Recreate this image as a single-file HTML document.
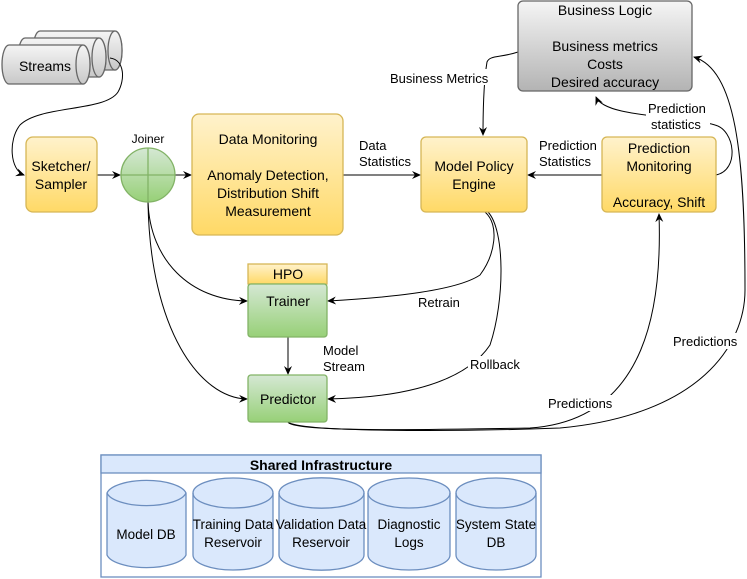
<!DOCTYPE html>
<html><head><meta charset="utf-8"><style>body{margin:0;background:#fff}svg{display:block}text{font-family:"Liberation Sans",sans-serif;fill:#000}</style></head><body>
<svg width="747" height="579" viewBox="0 0 747 579" xmlns="http://www.w3.org/2000/svg">
<defs>
<linearGradient id="y" x1="0" y1="0" x2="0" y2="1"><stop offset="0" stop-color="#fff2cc"/><stop offset="1" stop-color="#ffd966"/></linearGradient>
<linearGradient id="g" x1="0" y1="0" x2="0" y2="1"><stop offset="0" stop-color="#d5e8d4"/><stop offset="1" stop-color="#97d077"/></linearGradient>
<linearGradient id="gr" x1="0" y1="0" x2="0" y2="1"><stop offset="0" stop-color="#f5f5f5"/><stop offset="1" stop-color="#b3b3b3"/></linearGradient>
<linearGradient id="cg" x1="0" y1="0" x2="0" y2="1"><stop offset="0" stop-color="#f5f5f5"/><stop offset="1" stop-color="#c8c8c8"/></linearGradient>
<marker id="a" markerWidth="10" markerHeight="10" refX="8" refY="5" orient="auto" markerUnits="userSpaceOnUse"><path d="M0,1 L9,5 L0,9 L3,5 Z" fill="#000"/></marker>
</defs>
<g stroke="#666" stroke-width="1.3" fill="url(#cg)">
<path d="M40,31 H115 A7,19.5 0 0 1 115,70 H40 A7,19.5 0 0 1 40,31 Z"/><ellipse cx="115" cy="50.5" rx="7" ry="19.5"/>
<path d="M25,38 H99 A7,19.5 0 0 1 99,77 H25 A7,19.5 0 0 1 25,38 Z"/><ellipse cx="99" cy="57.5" rx="7" ry="19.5"/>
<path d="M9,45 H83 A7,19.5 0 0 1 83,84 H9 A7,19.5 0 0 1 9,45 Z"/><ellipse cx="83" cy="64.5" rx="7" ry="19.5"/>
</g>
<text x="45" y="71" font-size="14" text-anchor="middle">Streams</text>
<g fill="none" stroke="#000" stroke-width="1">
<path d="M110,58 C125,60 125,80 118,92 C105,112 40,105 20,125 C8,140 10,170 24,175" marker-end="url(#a)"/>
<path d="M97,175 H120" marker-end="url(#a)"/>
<path d="M175,175 H191" marker-end="url(#a)"/>
<path d="M343,175 H420" marker-end="url(#a)"/>
<path d="M602,175 H528" marker-end="url(#a)"/>
<path d="M518,52 C500,58 490,55 487,62 C484,80 483,110 483,135" marker-end="url(#a)"/>
<path d="M716,175 C740,170 735,130 715,125 C680,115 605,118 596,97" marker-end="url(#a)"/>
<path d="M148,202 C150,260 190,300 247,301" marker-end="url(#a)"/>
<path d="M148,202 C150,330 200,398 247,399" marker-end="url(#a)"/>
<path d="M485,212 C500,225 495,255 480,275 C455,292 380,298 328,301" marker-end="url(#a)"/>
<path d="M488,212 C505,230 505,300 490,345 C460,390 380,398 328,399" marker-end="url(#a)"/>
<path d="M288,337 V374" marker-end="url(#a)"/>
<path d="M288,422 C290,432 420,430 530,428 C650,420 662,300 659,214" marker-end="url(#a)"/>
<path d="M288,422 C300,432 450,432 560,428 C700,415 745,345 745,290 C745,150 735,70 694,57" marker-end="url(#a)"/>
</g>
<rect x="26" y="137" width="71" height="75" rx="7" fill="url(#y)" stroke="#d6b656" stroke-width="1.3"/>
<text x="61" y="171" font-size="14" text-anchor="middle">Sketcher/</text><text x="61" y="189" font-size="14" text-anchor="middle">Sampler</text>
<circle cx="148" cy="175" r="27" fill="url(#g)" stroke="#82b366" stroke-width="1.3"/>
<path d="M148,148 V202 M121,175 H175" stroke="#82b366" stroke-width="1.3"/>
<text x="148" y="143" font-size="12" text-anchor="middle">Joiner</text>
<rect x="192" y="114" width="151" height="121" rx="7" fill="url(#y)" stroke="#d6b656" stroke-width="1.3"/>
<g font-size="14" text-anchor="middle"><text x="268" y="144">Data Monitoring</text><text x="268" y="180">Anomaly Detection,</text><text x="268" y="198">Distribution Shift</text><text x="268" y="216">Measurement</text></g>
<rect x="421" y="137" width="106" height="75" rx="5" fill="url(#y)" stroke="#d6b656" stroke-width="1.3"/>
<g font-size="14" text-anchor="middle"><text x="474" y="171">Model Policy</text><text x="474" y="189">Engine</text></g>
<rect x="602" y="137" width="114" height="75" rx="5" fill="url(#y)" stroke="#d6b656" stroke-width="1.3"/>
<g font-size="14" text-anchor="middle"><text x="659" y="153">Prediction</text><text x="659" y="171">Monitoring</text><text x="659" y="207">Accuracy, Shift</text></g>
<rect x="518" y="1" width="174" height="90" rx="5" fill="url(#gr)" stroke="#666" stroke-width="1.3"/>
<g font-size="14" text-anchor="middle"><text x="605" y="15">Business Logic</text><text x="605" y="51">Business metrics</text><text x="605" y="69">Costs</text><text x="605" y="87">Desired accuracy</text></g>
<rect x="248" y="264" width="79" height="20" fill="url(#y)" stroke="#d6b656" stroke-width="1.3"/>
<text x="288" y="279" font-size="14" text-anchor="middle">HPO</text>
<rect x="248" y="284" width="79" height="53" rx="3" fill="url(#g)" stroke="#82b366" stroke-width="1.3"/>
<text x="288" y="306" font-size="14" text-anchor="middle">Trainer</text>
<rect x="248" y="375" width="79" height="47" rx="3" fill="url(#g)" stroke="#82b366" stroke-width="1.3"/>
<text x="288" y="404" font-size="14" text-anchor="middle">Predictor</text>
<g font-size="13">
<rect x="358" y="138" width="58" height="30" fill="#fff"/><text x="359" y="150">Data</text><text x="359" y="166">Statistics</text>
<rect x="538" y="138" width="62" height="30" fill="#fff"/><text x="539" y="150">Prediction</text><text x="539" y="166">Statistics</text>
<rect x="388" y="69" width="108" height="16" fill="#fff"/><text x="390" y="83">Business Metrics</text>
<rect x="646" y="100" width="64" height="32" fill="#fff"/><text x="648" y="113">Prediction</text><text x="651" y="129">statistics</text>
<rect x="416" y="294" width="50" height="16" fill="#fff"/><text x="418" y="307">Retrain</text>
<rect x="468" y="356" width="56" height="16" fill="#fff"/><text x="470" y="369">Rollback</text>
<text x="323" y="355">Model</text><text x="323" y="371">Stream</text>
<rect x="546" y="395" width="70" height="16" fill="#fff"/><text x="548" y="408">Predictions</text>
<rect x="671" y="333" width="72" height="16" fill="#fff"/><text x="673" y="346">Predictions</text>
</g>
<rect x="101" y="455" width="440" height="122" fill="#fff" stroke="#6c8ebf" stroke-width="1.3"/>
<rect x="101" y="455" width="440" height="18" fill="#dae8fc" stroke="#6c8ebf" stroke-width="1.3"/>
<text x="321" y="470" font-size="14" font-weight="bold" text-anchor="middle">Shared Infrastructure</text>
<g fill="#dae8fc" stroke="#6c8ebf" stroke-width="1.3">
<path d="M107,493 A40,15 0 0 1 186,493 V555 A40,15 0 0 1 107,555 Z"/><path d="M107,493 A40,15 0 0 0 186,493" fill="none"/>
<path d="M193,493 A40,15 0 0 1 273,493 V555 A40,15 0 0 1 193,555 Z"/><path d="M193,493 A40,15 0 0 0 273,493" fill="none"/>
<path d="M279,493 A42,15 0 0 1 364,493 V555 A42,15 0 0 1 279,555 Z"/><path d="M279,493 A42,15 0 0 0 364,493" fill="none"/>
<path d="M368,493 A41,15 0 0 1 450,493 V555 A41,15 0 0 1 368,555 Z"/><path d="M368,493 A41,15 0 0 0 450,493" fill="none"/>
<path d="M456,493 A40,15 0 0 1 536,493 V555 A40,15 0 0 1 456,555 Z"/><path d="M456,493 A40,15 0 0 0 536,493" fill="none"/>
</g>
<g font-size="13.5" text-anchor="middle">
<text x="146" y="539">Model DB</text>
<text x="233" y="529">Training Data</text><text x="233" y="547">Reservoir</text>
<text x="321" y="529">Validation Data</text><text x="321" y="547">Reservoir</text>
<text x="409" y="529">Diagnostic</text><text x="409" y="547">Logs</text>
<text x="496" y="529">System State</text><text x="496" y="547">DB</text>
</g>
</svg>
</body></html>
